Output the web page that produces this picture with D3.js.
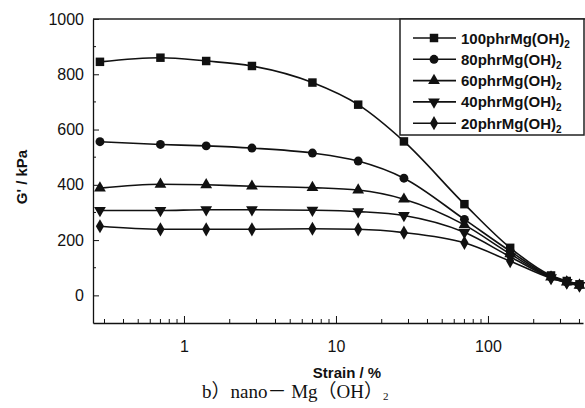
<!DOCTYPE html>
<html lang="zh-CN">
<head>
    <meta charset="UTF-8">
    <title>G' vs Strain</title>
    <script src="https://d3js.org/d3.v7.min.js"></script>
    <style>
        body {
            margin: 0;
            background: #fff;
        }
        svg text {
            font-family: "Liberation Sans", Arial, sans-serif;
            fill: #111;
        }
    </style>
</head>
<body>
<svg id="chart" width="585" height="408"></svg>
<script>
// 应变 (%)
const strain = [0.28, 0.7, 1.4, 2.8, 7, 14, 28, 70, 140, 260, 330, 400];

// G' (kPa) 各填充量
const g100 = [845, 860, 848, 830, 770, 690, 557, 330, 172, 72, 52, 40];
const g80  = [556, 546, 541, 533, 515, 486, 424, 275, 160, 68, 50, 38];
const g60  = [388, 402, 400, 395, 390, 381, 348, 255, 150, 66, 48, 36];
const g40  = [307, 307, 310, 310, 308, 303, 289, 228, 140, 64, 47, 36];
const g20  = [250, 239, 239, 239, 241, 239, 227, 190, 124, 62, 46, 35];

const seriesNames = ["100phrMg(OH)", "80phrMg(OH)", "60phrMg(OH)", "40phrMg(OH)", "20phrMg(OH)"];
const seriesValues = [g100, g80, g60, g40, g20];

const yMajor = [0, 200, 400, 600, 800, 1000];
const yMinor = [100, 300, 500, 700, 900];
const xMajor = [1, 10, 100];
const xMinor = [0.3, 0.4, 0.5, 0.6, 0.7, 0.8, 0.9, 2, 3, 4, 5, 6, 7, 8, 9,
                20, 30, 40, 50, 60, 70, 80, 90, 200, 300, 400];

// ========== 画布 ==========
const plotL = 93, plotR = 583, plotT = 19, plotB = 323;
const svg = d3.select("#chart");

const x = d3.scaleLog().domain([0.252, 422]).range([plotL, plotR]);
const y = d3.scaleLinear().domain([-100, 1000]).range([plotB, plotT]);

const symbols = [
    d3.symbol().type(d3.symbolSquare).size(72),
    d3.symbol().type(d3.symbolCircle).size(62),
    d3.symbol().type(d3.symbolTriangle).size(60),
    d3.symbol().type(d3.symbolTriangle).size(60),
    d3.symbol().type(d3.symbolDiamond).size(58)
];
const rotate = [0, 0, 0, 180, 0];

// 坐标轴 (刻度朝内)
const yAxis = svg.append("g").attr("transform", `translate(${plotL},0)`);
yAxis.call(d3.axisLeft(y).tickValues(yMajor).tickFormat(d3.format("d"))
    .tickSizeInner(-6).tickSizeOuter(0).tickPadding(9));
yAxis.append("g").selectAll("line").data(yMinor).join("line")
    .attr("x1", 0).attr("x2", 3)
    .attr("y1", d => y(d)).attr("y2", d => y(d))
    .attr("stroke", "#111");

const xAxis = svg.append("g").attr("transform", `translate(0,${plotB})`);
xAxis.call(d3.axisBottom(x).tickValues(xMajor).tickFormat(d3.format("d"))
    .tickSizeInner(-7).tickSizeOuter(0).tickPadding(18));
xAxis.append("g").selectAll("line").data(xMinor).join("line")
    .attr("x1", d => x(d)).attr("x2", d => x(d))
    .attr("y1", 0).attr("y2", -4)
    .attr("stroke", "#111");

svg.selectAll(".domain").attr("stroke", "#111").attr("stroke-width", 1.3);
svg.selectAll(".tick line").attr("stroke", "#111");
svg.selectAll(".tick text").attr("font-size", 16).attr("fill", "#111");

// 上边框
svg.append("line")
    .attr("x1", plotL).attr("x2", 585)
    .attr("y1", plotT).attr("y2", plotT)
    .attr("stroke", "#222").attr("stroke-width", 1.3);

// 曲线与标记
const line = d3.line()
    .x((d, i) => x(strain[i]))
    .y(d => y(d))
    .curve(d3.curveMonotoneX);

seriesValues.forEach((vals, k) => {
    svg.append("path")
        .attr("d", line(vals))
        .attr("fill", "none")
        .attr("stroke", "#111")
        .attr("stroke-width", 1.6);
    svg.append("g").selectAll("path").data(vals).join("path")
        .attr("d", symbols[k])
        .attr("transform", (d, i) => `translate(${x(strain[i])},${y(d)}) rotate(${rotate[k]})`)
        .attr("fill", "#111");
});

// 图例
const legend = svg.append("g");
legend.append("rect")
    .attr("x", 400).attr("y", plotT)
    .attr("width", 184).attr("height", 116)
    .attr("fill", "#fff")
    .attr("stroke", "#222").attr("stroke-width", 1.5);

seriesNames.forEach((name, k) => {
    const ly = 38 + k * 21.3;
    legend.append("line")
        .attr("x1", 413).attr("x2", 456)
        .attr("y1", ly).attr("y2", ly)
        .attr("stroke", "#111").attr("stroke-width", 1.6);
    legend.append("path")
        .attr("d", symbols[k])
        .attr("transform", `translate(434,${ly}) rotate(${rotate[k]})`)
        .attr("fill", "#111");
    const t = legend.append("text")
        .attr("x", 461).attr("y", ly + 5.5)
        .attr("font-size", 15).attr("font-weight", "bold");
    t.append("tspan").text(name);
    t.append("tspan").text("2").attr("font-size", 10).attr("dy", 4);
});

// 轴标题
svg.append("text")
    .attr("transform", "translate(27,177) rotate(-90)")
    .attr("text-anchor", "middle")
    .attr("font-size", 15).attr("font-weight", "bold")
    .text("G' / kPa");

svg.append("text")
    .attr("x", 347).attr("y", 378)
    .attr("text-anchor", "middle")
    .attr("font-size", 15).attr("font-weight", "bold")
    .text("Strain / %");

// 图注
const cap = svg.append("text")
    .attr("x", 202).attr("y", 398)
    .attr("font-size", 19)
    .style("font-family", "'Liberation Serif', 'DejaVu Serif', 'Noto Sans CJK SC', serif");
cap.append("tspan").text("b）nano－ Mg（OH）");
cap.append("tspan").text("2").attr("font-size", 11).attr("dy", 2);
</script>
</body>
</html>
